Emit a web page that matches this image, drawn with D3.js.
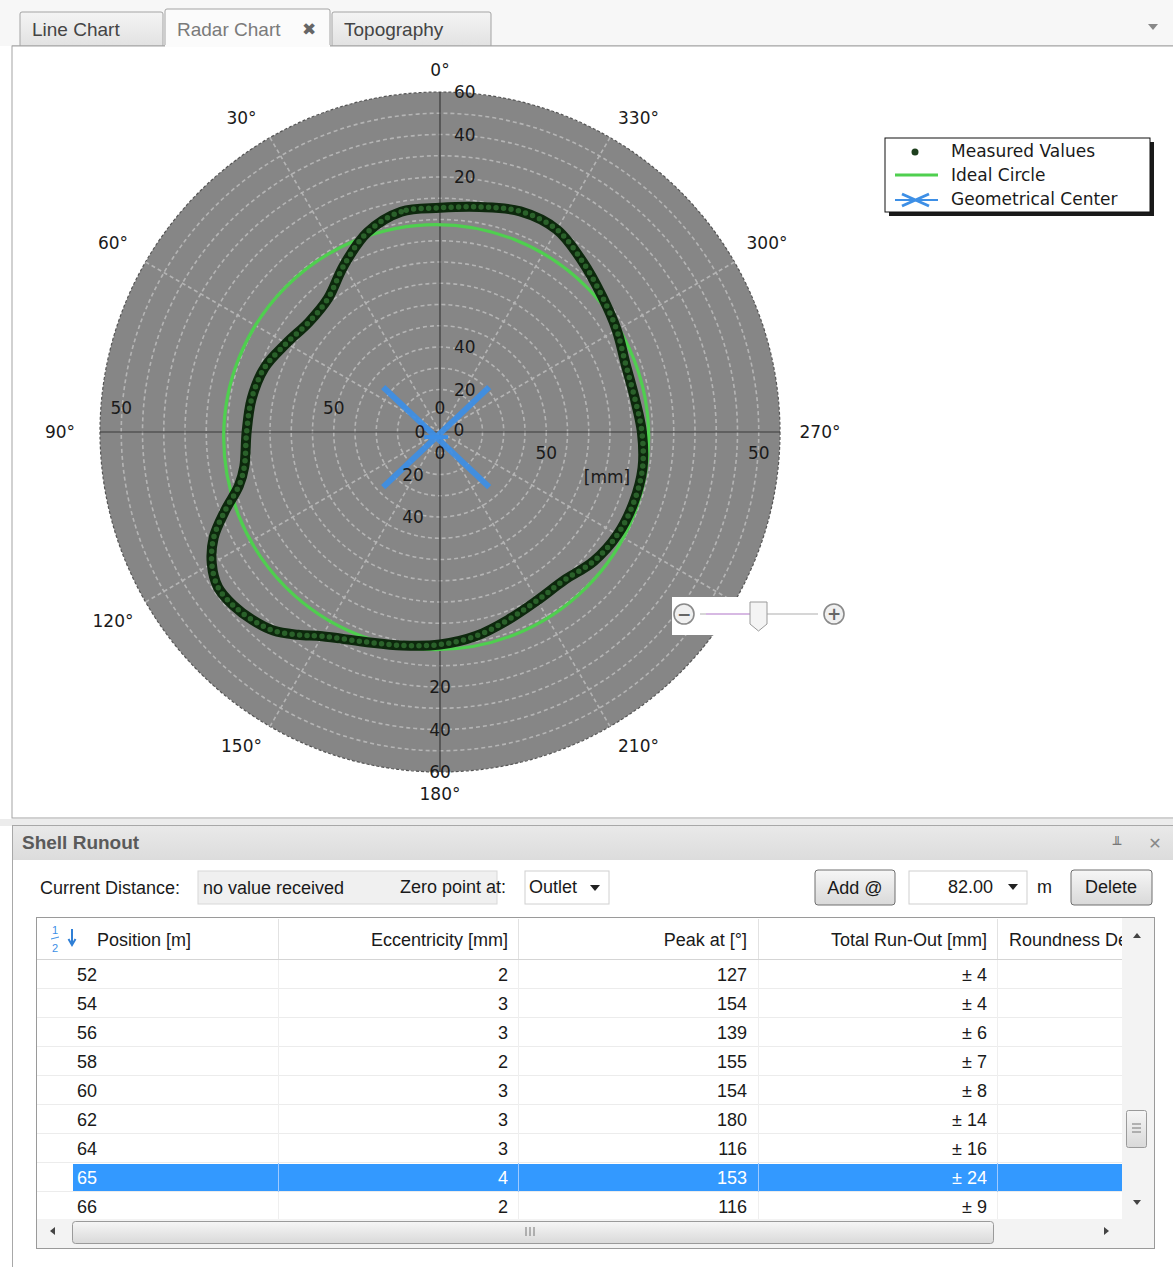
<!DOCTYPE html>
<html><head><meta charset="utf-8">
<script src="https://cdn.jsdelivr.net/npm/d3@7"></script>
<style>
html,body{margin:0;padding:0;background:#fff;overflow:hidden;}
svg{display:block;}
</style></head>
<body>
<svg id="c" width="1173" height="1267"></svg>
<script>
// ---------------- DATA ----------------
const tabs = ["Line Chart", "Radar Chart", "Topography"];
const activeTab = "Radar Chart";
const angleTicks = [0,30,60,90,120,150,180,210,240,270,300,330];
const ringValues = [10,20,30,40,50,60,70,80,90,100,110,120,130,140,150,160];
const spokeAngles = [30,60,120,150,210,240,300,330];
const outerOffset = 100;           // outer zone labels show value - 100
const upTicks = [20,40,120,140,160];
const downTicks = [20,40,120,140,160];
const leftTicks = [50,150];
const rightTicks = [50,150];
// measured values: angle (deg, counter-clockwise from top) and radius value
const measAngles = [0,10,20,30,40,50,60,70,80,90,100,105,110,115,120,125,130,135,140,145,150,160,170,180,190,200,210,220,230,240,250,260,270,280,290,300,310,320,330,340,350];
const measValues = [105.5,105.3,100,90.5,82,80.5,83.5,88,90,91,93.5,98,107.5,117.5,124,127.5,127,125,122,116.5,111,105,102,100,97.5,94,91.5,91,94.5,96.5,97,96.8,95,93,93,96,99.5,104.5,110,110.5,107.5];
const idealRadius = 100;
const geoCenter = [-1.8, -2.4];     // mm (x right, y up)
const legendItems = ["Measured Values", "Ideal Circle", "Geometrical Center"];
// table
const columns = ["Position [m]", "Eccentricity [mm]", "Peak at [°]", "Total Run-Out [mm]", "Roundness De"];
const positions = [52,54,56,58,60,62,64,65,66];
const eccentricity = [2,3,3,2,3,3,3,4,2];
const peakAt = [127,154,139,155,154,180,116,153,116];
const totalRunOut = [4,4,6,7,8,14,16,24,9];
const selectedPos = 65;

// ---------------- DRAW ----------------
const svg = d3.select("#c");
const NARROW = "'Liberation Sans Narrow','Arial Narrow','Liberation Sans',sans-serif";
const VERD = "'DejaVu Sans',Verdana,sans-serif";

const defs = svg.append("defs");
const g1 = defs.append("linearGradient").attr("id","tabg").attr("x1",0).attr("y1",0).attr("x2",0).attr("y2",1);
g1.append("stop").attr("offset","0%").attr("stop-color","#f4f4f4");
g1.append("stop").attr("offset","100%").attr("stop-color","#e2e2e2");
const g2 = defs.append("linearGradient").attr("id","hdrg").attr("x1",0).attr("y1",0).attr("x2",0).attr("y2",1);
g2.append("stop").attr("offset","0%").attr("stop-color","#e9e9e9");
g2.append("stop").attr("offset","100%").attr("stop-color","#dcdcdc");
const g3 = defs.append("linearGradient").attr("id","btng").attr("x1",0).attr("y1",0).attr("x2",0).attr("y2",1);
g3.append("stop").attr("offset","0%").attr("stop-color","#f6f6f6");
g3.append("stop").attr("offset","100%").attr("stop-color","#d9d9d9");
const cp = defs.append("clipPath").attr("id","tblclip");
cp.append("rect").attr("x",37).attr("y",918).attr("width",1085).attr("height",301);

// top strip
svg.append("rect").attr("x",0).attr("y",0).attr("width",1173).attr("height",46).attr("fill","#f7f7f7");
const tabX = {"Line Chart":[20,163],"Radar Chart":[165,330],"Topography":[332,491]};
tabs.forEach(t => {
  const [x0,x1] = tabX[t];
  const act = t === activeTab;
  const y0 = act ? 9 : 12;
  svg.append("path").attr("d",`M${x0},46V${y0+2}Q${x0},${y0} ${x0+2},${y0}H${x1-2}Q${x1},${y0} ${x1},${y0+2}V46`)
    .attr("fill", act ? "#fbfbfb" : "url(#tabg)").attr("stroke","#a3a3a3");
  svg.append("text").attr("x",x0+12).attr("y",36).attr("font-family",NARROW).attr("font-size",19)
    .attr("fill", act ? "#7a7a7a" : "#444").text(t);
  if (act) svg.append("text").attr("x",x1-28).attr("y",35).attr("font-family",VERD).attr("font-weight","bold")
    .attr("font-size",17).attr("fill","#666").text("✖");
});
svg.append("path").attr("d","M12,46H165M330,46H1173").attr("stroke","#a3a3a3");
svg.append("path").attr("d","M1148,24L1158,24L1153,30Z").attr("fill","#888");
// chart panel
svg.append("rect").attr("x",12).attr("y",46).attr("width",1170).attr("height",772).attr("fill","#fff").attr("stroke","#a3a3a3");
svg.append("path").attr("d","M330,46H165").attr("stroke","#fbfbfb").attr("stroke-width",2);

// polar chart
const cx = 440, cy = 432;
const r = d3.scaleLinear().domain([0,160]).range([0,340]);
const P = (aDeg, v) => { const a = aDeg*Math.PI/180; return [cx - r(v)*Math.sin(a), cy - r(v)*Math.cos(a)]; };
const chart = svg.append("g");
chart.append("circle").attr("cx",cx).attr("cy",cy).attr("r",r(160)).attr("fill","#868686");
chart.selectAll("circle.ring").data(ringValues.slice(0,-1)).join("circle").attr("class","ring")
  .attr("cx",cx).attr("cy",cy).attr("r",d=>r(d)).attr("fill","none")
  .attr("stroke","#b4b4b4").attr("stroke-width",1.6).attr("stroke-dasharray","4,3");
chart.append("circle").attr("cx",cx).attr("cy",cy).attr("r",r(160)).attr("fill","none")
  .attr("stroke","#555").attr("stroke-width",1.2).attr("stroke-dasharray","3,2");
chart.selectAll("line.spoke").data(spokeAngles).join("line").attr("class","spoke")
  .attr("x1",cx).attr("y1",cy).attr("x2",d=>P(d,160)[0]).attr("y2",d=>P(d,160)[1])
  .attr("stroke","#b4b4b4").attr("stroke-width",1.6).attr("stroke-dasharray","4,3");
[0,90,180,270].forEach(a => {
  const p = P(a,160);
  chart.append("line").attr("x1",cx).attr("y1",cy).attr("x2",p[0]).attr("y2",p[1]).attr("stroke","#3a3a3a").attr("stroke-width",1.2);
});

// ideal circle
const gc = [cx + r(geoCenter[0]), cy - r(geoCenter[1])];
chart.append("circle").attr("cx",gc[0]).attr("cy",gc[1]).attr("r",r(idealRadius)).attr("fill","none")
  .attr("stroke","#4fcf4f").attr("stroke-width",3.2);

// measured values
const meas = measAngles.map((a,i)=>({a, v:measValues[i]}));
const radial = d3.lineRadial().angle(d => -d.a*Math.PI/180).radius(d => r(d.v)).curve(d3.curveCatmullRomClosed.alpha(0.5));
const mg = chart.append("g").attr("transform",`translate(${cx},${cy})`);
mg.append("path").attr("d",radial(meas)).attr("fill","none").attr("stroke","#0d280d").attr("stroke-width",10);
mg.append("path").attr("d",radial(meas)).attr("fill","none").attr("stroke","#2a612a").attr("stroke-width",5.5)
  .attr("stroke-linecap","round").attr("stroke-dasharray","0 7.5");

// geometrical center marker
const X = chart.append("g").attr("transform",`translate(${gc[0]},${gc[1]})`);
X.append("path").attr("d","M-53,-50L53,50M-53,50L53,-50").attr("stroke","#3d8fe6").attr("stroke-width",6).attr("opacity",0.92);
X.append("path").attr("d","M-12,0H12").attr("stroke","#3d8fe6").attr("stroke-width",4);

// radial labels
const lab = (x,y,t,anchor="middle") => chart.append("text").attr("x",x).attr("y",y).attr("dy","0.36em")
  .attr("text-anchor",anchor).attr("font-family",VERD).attr("font-size",17).attr("fill","#1a1a1a").text(t);
const txt = v => String(v >= outerOffset ? v - outerOffset : v);
upTicks.forEach(v => lab(cx+14, cy - r(v), txt(v), "start"));
downTicks.forEach(v => v >= outerOffset ? lab(cx, cy + r(v), txt(v)) : lab(cx-27, cy + r(v), txt(v)));
leftTicks.forEach(v => lab(cx - r(v), cy - 24, txt(v)));
rightTicks.forEach(v => lab(cx + r(v), cy + 21, txt(v)));
lab(cx, cy-24, "0"); lab(cx-20, cy, "0"); lab(cx+19, cy-2, "0"); lab(cx, cy+21, "0");
lab(cx+167, cy+45, "[mm]");

// angle labels
angleTicks.forEach(a => {
  const rad = a*Math.PI/180, s = Math.sin(rad), c = Math.cos(rad);
  const rr = r(160) + 22 + 18*Math.abs(s);
  let x = cx - rr*s, yy = cy - rr*c;
  if (Math.abs(c) > 0.8 && Math.abs(s) > 0.1) { x -= Math.sign(s)*13; yy += Math.sign(c)*7; }
  chart.append("text").attr("x", x).attr("y", yy).attr("dy","0.36em")
    .attr("text-anchor","middle").attr("font-family",VERD).attr("font-size",17).attr("fill","#1a1a1a").text(a+"°");
});

// zoom slider widget
const zs = svg.append("g");
zs.append("rect").attr("x",672).attr("y",597).attr("width",190).attr("height",38).attr("fill","#fff");
[[684,"−"],[834,"+"]].forEach(([x,s]) => {
  zs.append("circle").attr("cx",x).attr("cy",614).attr("r",10).attr("fill","#f0f0f0").attr("stroke","#8a8a8a").attr("stroke-width",1.6);
  zs.append("text").attr("x",x).attr("y",614).attr("dy","0.36em").attr("text-anchor","middle").attr("font-family",VERD)
    .attr("font-weight","bold").attr("font-size",17).attr("fill","#666").text(s);
});
zs.append("line").attr("x1",700).attr("x2",818).attr("y1",614).attr("y2",614).attr("stroke","#c8c8c8").attr("stroke-width",1.5);
zs.append("line").attr("x1",706).attr("x2",752).attr("y1",614).attr("y2",614).attr("stroke","#d7b9e3").attr("stroke-width",2);
zs.append("path").attr("d","M750,602H767V624L758.5,631L750,624Z").attr("fill","#f4f4f4").attr("stroke","#9a9a9a");

// legend
const lg = svg.append("g");
lg.append("rect").attr("x",889).attr("y",142).attr("width",265).attr("height",74).attr("fill","#1a1a1a");
lg.append("rect").attr("x",885).attr("y",138).attr("width",265).attr("height",74).attr("fill","#fff").attr("stroke","#111");
legendItems.forEach((t,i) => {
  lg.append("text").attr("x",951).attr("y",151 + i*24).attr("dy","0.36em").attr("font-family",VERD).attr("font-size",17)
    .attr("fill","#1a1a1a").text(t);
});
lg.append("circle").attr("cx",915).attr("cy",152).attr("r",3.5).attr("fill","#1d3f1d");
lg.append("line").attr("x1",895).attr("x2",938).attr("y1",175).attr("y2",175).attr("stroke","#4fcf4f").attr("stroke-width",3);
lg.append("line").attr("x1",895).attr("x2",938).attr("y1",200).attr("y2",200).attr("stroke","#3d8fe6").attr("stroke-width",2);
lg.append("path").attr("d","M902,194L929,206M902,206L929,194").attr("stroke","#3d8fe6").attr("stroke-width",3);

// ---------------- bottom panel ----------------
svg.append("rect").attr("x",0).attr("y",819).attr("width",1173).attr("height",7).attr("fill","#ececec");
svg.append("line").attr("x1",12).attr("x2",1173).attr("y1",825.5).attr("y2",825.5).attr("stroke","#a8a8a8");
svg.append("line").attr("x1",12.5).attr("x2",12.5).attr("y1",825).attr("y2",1267).attr("stroke","#a8a8a8");
svg.append("rect").attr("x",13).attr("y",826).attr("width",1160).attr("height",34).attr("fill","url(#hdrg)");
svg.append("text").attr("x",22).attr("y",849).attr("font-family",NARROW).attr("font-weight","bold").attr("font-size",19)
  .attr("fill","#5a5a5a").text("Shell Runout");
svg.append("text").attr("x",1117).attr("y",849).attr("text-anchor","middle").attr("font-family",VERD).attr("font-size",14).attr("fill","#777").text("╨");
svg.append("text").attr("x",1155).attr("y",849).attr("text-anchor","middle").attr("font-family",VERD).attr("font-weight","bold").attr("font-size",16).attr("fill","#888").text("✕");

// toolbar
const tb = svg.append("g").attr("font-family",NARROW).attr("font-size",18).attr("fill","#1a1a1a");
tb.append("text").attr("x",40).attr("y",894).text("Current Distance:");
tb.append("rect").attr("x",198).attr("y",871).attr("width",299).attr("height",33).attr("fill","#f0f0f0").attr("stroke","#d8d8d8");
tb.append("text").attr("x",203).attr("y",894).text("no value received");
tb.append("text").attr("x",400).attr("y",893).text("Zero point at:");
tb.append("rect").attr("x",525).attr("y",871).attr("width",84).attr("height",33).attr("fill","#fff").attr("stroke","#d0d0d0");
tb.append("text").attr("x",529).attr("y",893).text("Outlet");
tb.append("path").attr("d","M590,885H600L595,891Z").attr("fill","#222");
tb.append("rect").attr("x",815).attr("y",870).attr("width",80).attr("height",35).attr("rx",3).attr("fill","url(#btng)").attr("stroke","#6f6f6f");
tb.append("text").attr("x",855).attr("y",894).attr("text-anchor","middle").text("Add @");
tb.append("rect").attr("x",909).attr("y",871).attr("width",118).attr("height",33).attr("fill","#fff").attr("stroke","#cfcfcf");
tb.append("text").attr("x",993).attr("y",893).attr("text-anchor","end").text("82.00");
tb.append("path").attr("d","M1008,884H1018L1013,890Z").attr("fill","#222");
tb.append("text").attr("x",1037).attr("y",893).text("m");
tb.append("rect").attr("x",1071).attr("y",870).attr("width",81).attr("height",35).attr("rx",3).attr("fill","url(#btng)").attr("stroke","#6f6f6f");
tb.append("text").attr("x",1111).attr("y",893).attr("text-anchor","middle").text("Delete");

// table
svg.append("rect").attr("x",36.5).attr("y",917.5).attr("width",1118).attr("height",331).attr("fill","#fff").attr("stroke","#9a9a9a");
const tbl = svg.append("g").attr("clip-path","url(#tblclip)").attr("font-family",NARROW).attr("font-size",18);
const colEdges = [73,278,518,758,997,1122];
const rowY0 = 960, rowH = 29;
const y = d3.scaleBand().domain(positions).range([rowY0, rowY0 + rowH*positions.length]).padding(0);
// header
tbl.append("line").attr("x1",37).attr("x2",1122).attr("y1",959.5).attr("y2",959.5).attr("stroke","#d5d5d5");
colEdges.slice(1,5).forEach(x => tbl.append("line").attr("x1",x+0.5).attr("x2",x+0.5).attr("y1",919).attr("y2",959).attr("stroke","#e2e2e2"));
tbl.append("text").attr("x",52).attr("y",934).attr("font-size",11).attr("fill","#3d8fe6").text("1");
tbl.append("text").attr("x",52).attr("y",952).attr("font-size",11).attr("fill","#3d8fe6").text("2");
tbl.append("line").attr("x1",51).attr("x2",59).attr("y1",939).attr("y2",937).attr("stroke","#3d8fe6");
tbl.append("path").attr("d","M72,929V943M68.5,939L72,945L75.5,939").attr("stroke","#2f7fd6").attr("stroke-width",2).attr("fill","none");
tbl.append("text").attr("x",97).attr("y",946).attr("fill","#1a1a1a").text(columns[0]);
[508,747,987].forEach((x,i) => tbl.append("text").attr("x",x).attr("y",946).attr("text-anchor","end").attr("fill","#1a1a1a").text(columns[i+1]));
tbl.append("text").attr("x",1009).attr("y",946).attr("fill","#1a1a1a").text(columns[4]);
// rows
const rows = tbl.selectAll("g.row").data(positions.map((p,i)=>({p,e:eccentricity[i],k:peakAt[i],t:totalRunOut[i]})))
  .join("g").attr("class","row").attr("transform",d=>`translate(0,${y(d.p)})`);
rows.filter(d=>d.p===selectedPos).append("rect").attr("x",73).attr("y",1).attr("width",1049).attr("height",rowH-1).attr("fill","#3399ff");
rows.append("line").attr("x1",37).attr("x2",1122).attr("y1",rowH-0.5).attr("y2",rowH-0.5).attr("stroke","#ececec");
colEdges.slice(1,5).forEach(x => rows.append("line").attr("x1",x+0.5).attr("x2",x+0.5).attr("y1",0).attr("y2",rowH)
  .attr("stroke",d=>d.p===selectedPos ? "#9fcaff" : "#efefef"));
const fillOf = d => d.p===selectedPos ? "#fff" : "#1a1a1a";
rows.append("text").attr("x",77).attr("y",21).attr("fill",fillOf).text(d=>d.p);
rows.append("text").attr("x",508).attr("y",21).attr("text-anchor","end").attr("fill",fillOf).text(d=>d.e);
rows.append("text").attr("x",747).attr("y",21).attr("text-anchor","end").attr("fill",fillOf).text(d=>d.k);
rows.append("text").attr("x",987).attr("y",21).attr("text-anchor","end").attr("fill",fillOf).text(d=>"± "+d.t);

// vertical scrollbar
const vs = svg.append("g");
vs.append("rect").attr("x",1122).attr("y",918).attr("width",32).attr("height",301).attr("fill","#f3f3f3");
vs.append("path").attr("d","M1133,938L1137,933L1141,938Z").attr("fill","#444");
vs.append("path").attr("d","M1133,1200L1137,1205L1141,1200Z").attr("fill","#444");
vs.append("rect").attr("x",1126.5).attr("y",1110.5).attr("width",20).attr("height",37).attr("rx",2).attr("fill","url(#btng)").attr("stroke","#9a9a9a");
[1124,1128,1132].forEach(yy => vs.append("line").attr("x1",1132).attr("x2",1141).attr("y1",yy).attr("y2",yy).attr("stroke","#777"));
// horizontal scrollbar
const hs = svg.append("g");
hs.append("rect").attr("x",37).attr("y",1219).attr("width",1117).attr("height",29).attr("fill","#f3f3f3");
hs.append("path").attr("d","M55,1227L50,1231L55,1235Z").attr("fill","#444");
hs.append("path").attr("d","M1104,1227L1109,1231L1104,1235Z").attr("fill","#444");
hs.append("rect").attr("x",72.5).attr("y",1221.5).attr("width",921).attr("height",22).attr("rx",3).attr("fill","url(#btng)").attr("stroke","#9a9a9a");
[526,530,534].forEach(xx => hs.append("line").attr("x1",xx).attr("x2",xx).attr("y1",1227).attr("y2",1236).attr("stroke","#777"));
</script>
</body></html>
